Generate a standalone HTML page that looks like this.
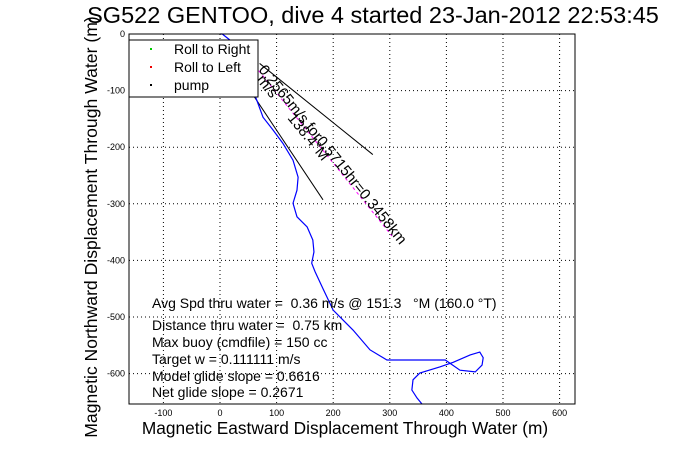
<!DOCTYPE html>
<html><head><meta charset="utf-8"><style>
body{margin:0;background:#fff}
svg{display:block;font-family:"Liberation Sans",sans-serif}
text{white-space:pre}
</style></head><body>
<svg id="c" width="681" height="454">
<rect width="681" height="454" fill="#fff"/>
<g id="grid"></g>
<g id="ticks"></g>
<g id="marks"></g>
<rect x="129" y="34" width="446" height="370" fill="none" stroke="#000"/>
<text x="373" y="23" font-size="23.5" text-anchor="middle">SG522 GENTOO, dive 4 started 23-Jan-2012 22:53:45</text>
<text x="345" y="434" font-size="17.3" text-anchor="middle">Magnetic Eastward Displacement Through Water (m)</text>
<text transform="translate(97,227) rotate(-90)" font-size="17.6" text-anchor="middle">Magnetic Northward Displacement Through Water (m)</text>
<g>
<rect x="129" y="40" width="129" height="57" fill="#fff" stroke="#000"/>
<rect x="150" y="48" width="2" height="2" fill="#0c0"/><text x="174" y="54" font-size="14">Roll to Right</text>
<rect x="150" y="66" width="2" height="2" fill="#e00"/><text x="174" y="72" font-size="14">Roll to Left</text>
<rect x="150" y="84" width="2" height="2" fill="#000"/><text x="174" y="90" font-size="14">pump</text>
</g>
<g font-size="14">
<text x="152" y="308">Avg Spd thru water =  0.36 m/s @ 151.3   °M (160.0 °T)</text>
<text x="152" y="330">Distance thru water =  0.75 km</text>
<text x="152" y="347">Max buoy (cmdfile) = 150 cc</text>
<text x="152" y="364">Target w = 0.111111 m/s</text>
<text x="152" y="381">Model glide slope = 0.6616</text>
<text x="152" y="397">Net glide slope = 0.2671</text>
</g>
</svg>
<script>
const xTicks=[-100,0,100,200,300,400,500,600];
const yTicks=[0,-100,-200,-300,-400,-500,-600];
const trackE=[0,4,18,28,44,58,65,76,94,111,129,138,136,129,136,154,164,166,162,168,182,200,235,265,295,398,424,451,463,465,459,442,412,389,353,341,339,348,357];
const trackN=[0,0,-11,-46,-81,-99,-117,-147,-170,-193,-223,-253,-276,-299,-323,-341,-364,-385,-405,-420,-450,-488,-523,-558,-576,-576,-594,-597,-585,-572,-562,-567,-580,-588,-599,-611,-629,-643,-654];
const line1E=[70,270];const line1N=[-52,-213];
const line2E=[58,182];const line2N=[-107,-293];
const X=v=>220+v*0.566, Y=v=>34-v*0.566;
const NS='http://www.w3.org/2000/svg';
function mk(t,a,p){const e=document.createElementNS(NS,t);for(const k in a)e.setAttribute(k,a[k]);p.appendChild(e);return e;}
const g=document.getElementById('grid'),tk=document.getElementById('ticks'),m=document.getElementById('marks');
xTicks.forEach(v=>{
 const l=mk('line',{x1:X(v),x2:X(v),y1:34,y2:404,stroke:'#000','stroke-dasharray':'1,3'},g);
 
 
 const t=mk('text',{x:X(v),y:416,'font-size':9,'text-anchor':'middle'},tk);t.textContent=v;
 
 
});
yTicks.forEach(v=>{
 const l=mk('line',{x1:129,x2:575,y1:Y(v),y2:Y(v),stroke:'#000','stroke-dasharray':'1,3'},g);
 
 
 const t=mk('text',{x:125,y:Y(v)+3,'font-size':9,'text-anchor':'end'},tk);t.textContent=v;
 
 
});
const l1=mk('line',{x1:X(line1E[0]),y1:Y(line1N[0]),x2:X(line1E[1]),y2:Y(line1N[1]),stroke:'#000'},m);


const l2=mk('line',{x1:X(line2E[0]),y1:Y(line2N[0]),x2:X(line2E[1]),y2:Y(line2N[1]),stroke:'#000'},m);


const pts=trackE.map((e,i)=>X(e)+','+Y(trackN[i])).join(' ');
const pl=mk('polyline',{points:pts,fill:'none',stroke:'#00f','stroke-width':1.2},m);


const ml=mk('line',{x1:255,y1:66,x2:392,y2:236,stroke:'#f0f','stroke-dasharray':'3,3'},m);


const t1=mk('text',{x:258,y:70,'font-size':15,transform:'rotate(51 258 70)'},m);
t1.textContent='0.2565m/s for0.5715hr=0.3458km';


const t2=mk('text',{x:256,y:80,'font-size':15,transform:'rotate(51 256 80)'},m);
t2.textContent='m/s      138.4°M';


</script>
</body></html>
